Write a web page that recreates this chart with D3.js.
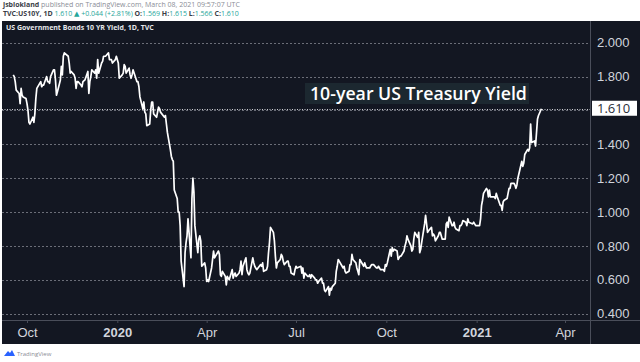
<!DOCTYPE html>
<html lang="en">
<head>
<meta charset="UTF-8">
<title>10-year US Treasury Yield</title>
<script src="https://d3js.org/d3.v7.min.js"></script>
<style>
  body { margin: 0; background: #ffffff; }
  svg { display: block; font-family: 'Open Sans', 'DejaVu Sans', sans-serif; }
  .hdr { font-size: 7px; fill: #8a8d96; }
  .hdr .b { font-weight: 700; fill: #3a3d46; }
  .hdr .g { fill: #26a69a; }
  .ylab { font-size: 13px; fill: #d1d4dc; }
  .xlab { font-size: 13px; fill: #d1d4dc; }
</style>
</head>
<body>
<svg id="chart" width="640" height="362"></svg>
<script>
// daily closes, TVC:US10Y
const dates = [
  "2019-09-17","2019-09-18","2019-09-19","2019-09-20","2019-09-23","2019-09-24","2019-09-25","2019-09-26","2019-09-27","2019-09-30",
  "2019-10-01","2019-10-02","2019-10-03","2019-10-04","2019-10-07","2019-10-08","2019-10-09","2019-10-10","2019-10-11","2019-10-15",
  "2019-10-16","2019-10-17","2019-10-18","2019-10-21","2019-10-22","2019-10-23","2019-10-24","2019-10-25","2019-10-28","2019-10-29",
  "2019-10-30","2019-10-31","2019-11-01","2019-11-04","2019-11-05","2019-11-06","2019-11-07","2019-11-08","2019-11-12","2019-11-13",
  "2019-11-14","2019-11-15","2019-11-18","2019-11-19","2019-11-20","2019-11-21","2019-11-22","2019-11-25","2019-11-26","2019-11-27",
  "2019-11-29","2019-12-02","2019-12-03","2019-12-04","2019-12-05","2019-12-06","2019-12-09","2019-12-10","2019-12-11","2019-12-12",
  "2019-12-13","2019-12-16","2019-12-17","2019-12-18","2019-12-19","2019-12-20","2019-12-23","2019-12-24","2019-12-26","2019-12-27",
  "2019-12-30","2019-12-31","2020-01-02","2020-01-03","2020-01-06","2020-01-07","2020-01-08","2020-01-09","2020-01-10","2020-01-13",
  "2020-01-14","2020-01-15","2020-01-16","2020-01-17","2020-01-21","2020-01-22","2020-01-23","2020-01-24","2020-01-27","2020-01-28",
  "2020-01-29","2020-01-30","2020-01-31","2020-02-03","2020-02-04","2020-02-05","2020-02-06","2020-02-07","2020-02-10","2020-02-11",
  "2020-02-12","2020-02-13","2020-02-14","2020-02-18","2020-02-19","2020-02-20","2020-02-21","2020-02-24","2020-02-25","2020-02-26",
  "2020-02-27","2020-02-28","2020-03-02","2020-03-03","2020-03-04","2020-03-05","2020-03-06","2020-03-09","2020-03-10","2020-03-11",
  "2020-03-12","2020-03-13","2020-03-16","2020-03-17","2020-03-18","2020-03-19","2020-03-20","2020-03-23","2020-03-24","2020-03-25",
  "2020-03-26","2020-03-27","2020-03-30","2020-03-31","2020-04-01","2020-04-02","2020-04-03","2020-04-06","2020-04-07","2020-04-08",
  "2020-04-09","2020-04-13","2020-04-14","2020-04-15","2020-04-16","2020-04-17","2020-04-20","2020-04-21","2020-04-22","2020-04-23",
  "2020-04-24","2020-04-27","2020-04-28","2020-04-29","2020-04-30","2020-05-01","2020-05-04","2020-05-05","2020-05-06","2020-05-07",
  "2020-05-08","2020-05-11","2020-05-12","2020-05-13","2020-05-14","2020-05-15","2020-05-18","2020-05-19","2020-05-20","2020-05-21",
  "2020-05-22","2020-05-26","2020-05-27","2020-05-28","2020-05-29","2020-06-01","2020-06-02","2020-06-03","2020-06-04","2020-06-05",
  "2020-06-08","2020-06-09","2020-06-10","2020-06-11","2020-06-12","2020-06-15","2020-06-16","2020-06-17","2020-06-18","2020-06-19",
  "2020-06-22","2020-06-23","2020-06-24","2020-06-25","2020-06-26","2020-06-29","2020-06-30","2020-07-01","2020-07-02","2020-07-06",
  "2020-07-07","2020-07-08","2020-07-09","2020-07-10","2020-07-13","2020-07-14","2020-07-15","2020-07-16","2020-07-17","2020-07-20",
  "2020-07-21","2020-07-22","2020-07-23","2020-07-24","2020-07-27","2020-07-28","2020-07-29","2020-07-30","2020-07-31","2020-08-03",
  "2020-08-04","2020-08-05","2020-08-06","2020-08-07","2020-08-10","2020-08-11","2020-08-12","2020-08-13","2020-08-14","2020-08-17",
  "2020-08-18","2020-08-19","2020-08-20","2020-08-21","2020-08-24","2020-08-25","2020-08-26","2020-08-27","2020-08-28","2020-08-31",
  "2020-09-01","2020-09-02","2020-09-03","2020-09-04","2020-09-08","2020-09-09","2020-09-10","2020-09-11","2020-09-14","2020-09-15",
  "2020-09-16","2020-09-17","2020-09-18","2020-09-21","2020-09-22","2020-09-23","2020-09-24","2020-09-25","2020-09-28","2020-09-29",
  "2020-09-30","2020-10-01","2020-10-02","2020-10-05","2020-10-06","2020-10-07","2020-10-08","2020-10-09","2020-10-12","2020-10-13",
  "2020-10-14","2020-10-15","2020-10-16","2020-10-19","2020-10-20","2020-10-21","2020-10-22","2020-10-23","2020-10-26","2020-10-27",
  "2020-10-28","2020-10-29","2020-10-30","2020-11-02","2020-11-03","2020-11-04","2020-11-05","2020-11-06","2020-11-09","2020-11-10",
  "2020-11-12","2020-11-13","2020-11-16","2020-11-17","2020-11-18","2020-11-19","2020-11-20","2020-11-23","2020-11-24","2020-11-25",
  "2020-11-27","2020-11-30","2020-12-01","2020-12-02","2020-12-03","2020-12-04","2020-12-07","2020-12-08","2020-12-09","2020-12-10",
  "2020-12-11","2020-12-14","2020-12-15","2020-12-16","2020-12-17","2020-12-18","2020-12-21","2020-12-22","2020-12-23","2020-12-24",
  "2020-12-28","2020-12-29","2020-12-30","2020-12-31","2021-01-04","2021-01-05","2021-01-06","2021-01-07","2021-01-08","2021-01-11",
  "2021-01-12","2021-01-13","2021-01-14","2021-01-15","2021-01-19","2021-01-20","2021-01-21","2021-01-22","2021-01-25","2021-01-26",
  "2021-01-27","2021-01-28","2021-01-29","2021-02-01","2021-02-02","2021-02-03","2021-02-04","2021-02-05","2021-02-08","2021-02-09",
  "2021-02-10","2021-02-11","2021-02-12","2021-02-16","2021-02-17","2021-02-18","2021-02-19","2021-02-22","2021-02-23","2021-02-24",
  "2021-02-25","2021-02-26","2021-03-01","2021-03-02","2021-03-03","2021-03-04","2021-03-05","2021-03-08"
];
const yields = [
  1.81,1.80,1.77,1.72,1.70,1.64,1.73,1.69,1.68,1.67,
  1.64,1.60,1.53,1.52,1.56,1.53,1.58,1.67,1.73,1.77,
  1.74,1.75,1.75,1.80,1.77,1.77,1.76,1.80,1.84,1.84,
  1.78,1.69,1.71,1.78,1.86,1.81,1.92,1.94,1.92,1.88,
  1.82,1.83,1.81,1.79,1.73,1.77,1.77,1.75,1.74,1.77,
  1.78,1.83,1.70,1.77,1.80,1.84,1.82,1.84,1.79,1.90,
  1.82,1.88,1.89,1.92,1.92,1.92,1.94,1.90,1.90,1.88,
  1.90,1.92,1.88,1.79,1.81,1.82,1.87,1.86,1.82,1.85,
  1.81,1.79,1.81,1.84,1.77,1.77,1.74,1.68,1.61,1.65,
  1.59,1.58,1.51,1.52,1.60,1.65,1.65,1.58,1.56,1.59,
  1.62,1.61,1.59,1.56,1.57,1.52,1.47,1.37,1.33,1.31,
  1.30,1.13,1.08,1.00,1.00,0.92,0.71,0.56,0.76,0.82,
  0.86,0.96,0.73,1.08,1.20,1.12,0.92,0.76,0.84,0.86,
  0.83,0.68,0.70,0.67,0.59,0.60,0.59,0.67,0.72,0.77,
  0.73,0.77,0.75,0.63,0.62,0.65,0.62,0.57,0.62,0.61,
  0.60,0.66,0.61,0.63,0.64,0.62,0.64,0.66,0.71,0.63,
  0.68,0.73,0.66,0.64,0.63,0.64,0.73,0.70,0.68,0.67,
  0.66,0.69,0.68,0.70,0.65,0.66,0.68,0.76,0.82,0.91,
  0.88,0.83,0.74,0.67,0.70,0.72,0.75,0.74,0.71,0.69,
  0.71,0.71,0.68,0.68,0.64,0.63,0.66,0.68,0.67,0.68,
  0.64,0.67,0.61,0.64,0.62,0.62,0.63,0.61,0.63,0.61,
  0.60,0.60,0.58,0.59,0.61,0.58,0.58,0.54,0.53,0.56,
  0.51,0.55,0.54,0.56,0.58,0.65,0.68,0.72,0.71,0.68,
  0.67,0.68,0.65,0.64,0.65,0.69,0.69,0.75,0.72,0.70,
  0.67,0.65,0.63,0.72,0.68,0.70,0.68,0.67,0.67,0.68,
  0.69,0.69,0.69,0.67,0.67,0.68,0.67,0.66,0.66,0.65,
  0.69,0.68,0.70,0.78,0.74,0.79,0.77,0.78,0.77,0.72,
  0.73,0.74,0.74,0.77,0.80,0.82,0.86,0.84,0.80,0.77,
  0.78,0.84,0.88,0.85,0.88,0.76,0.78,0.82,0.93,0.98,
  0.88,0.89,0.91,0.86,0.87,0.86,0.83,0.86,0.88,0.88,
  0.84,0.84,0.93,0.94,0.91,0.97,0.92,0.92,0.94,0.91,
  0.90,0.89,0.92,0.92,0.93,0.95,0.94,0.92,0.96,0.94,
  0.93,0.94,0.93,0.92,0.92,0.96,1.04,1.07,1.11,1.14,
  1.13,1.09,1.13,1.09,1.09,1.08,1.11,1.09,1.04,1.04,
  1.01,1.06,1.07,1.08,1.11,1.14,1.14,1.17,1.17,1.16,
  1.14,1.16,1.20,1.30,1.27,1.29,1.34,1.37,1.36,1.38,
  1.52,1.41,1.42,1.39,1.47,1.55,1.57,1.61
];
const yTicks = [2.0, 1.8, 1.6, 1.4, 1.2, 1.0, 0.8, 0.6, 0.4];
const xTicks = ["2019-10-01","2020-01-01","2020-04-01","2020-07-01","2020-10-01","2021-01-01","2021-04-01"];
const lastPrice = 1.610;

const parse = d3.timeParse("%Y-%m-%d");
const data = dates.map((d, i) => ({ date: parse(d), value: yields[i] }));

const svg = d3.select("#chart");

// header on white
const h1 = svg.append("text").attr("class", "hdr").attr("x", 3).attr("y", 7);
h1.append("tspan").attr("class", "b").text("jsblokland");
h1.append("tspan").text(" published on TradingView.com, March 08, 2021 09:57:07 UTC");

const h2 = svg.append("text").attr("class", "hdr").attr("x", 3).attr("y", 16);
[["TVC:US10Y, 1D ", "b"], ["1.610 ▲ +0.044 (+2.81%) ", "g"], ["O:", "b"], ["1.569 ", "g"], ["H:", "b"],
 ["1.615 ", "g"], ["L:", "b"], ["1.566 ", "g"], ["C:", "b"], ["1.610", "g"]]
  .forEach(([t, c]) => h2.append("tspan").attr("class", c).text(t));

// dark panel
const panel = { x: 2, y: 21, w: 638, h: 323 };
const plotRight = 590, axisY = 320;
svg.append("rect").attr("x", panel.x).attr("y", panel.y).attr("width", panel.w).attr("height", panel.h)
  .attr("fill", "#131722");

const x = d3.scaleTime().domain([parse(xTicks[0]), parse(xTicks[xTicks.length - 1])]).range([27, 565]);
const y = d3.scaleLinear().domain([0.4, 2.0]).range([313.7, 42.7]);

// grid
svg.append("g").selectAll("line").data(yTicks).join("line")
  .attr("x1", panel.x).attr("x2", plotRight)
  .attr("y1", d => Math.round(y(d)) + 0.5).attr("y2", d => Math.round(y(d)) + 0.5)
  .attr("stroke", "#6b6e78").attr("stroke-width", 1).attr("stroke-dasharray", "2,2");

// last price line
svg.append("line").attr("x1", panel.x).attr("x2", plotRight)
  .attr("y1", Math.round(y(lastPrice)) + 0.5).attr("y2", Math.round(y(lastPrice)) + 0.5)
  .attr("stroke", "#c8cad0").attr("stroke-width", 1).attr("stroke-dasharray", "1,1.5");

// separators
svg.append("line").attr("x1", panel.x).attr("x2", panel.x + panel.w).attr("y1", axisY + 0.5).attr("y2", axisY + 0.5)
  .attr("stroke", "#4a4e5a");
svg.append("line").attr("x1", plotRight + 0.5).attr("x2", plotRight + 0.5).attr("y1", panel.y).attr("y2", panel.y + panel.h)
  .attr("stroke", "#4a4e5a");

// panel title
svg.append("text").attr("x", 6).attr("y", 30).attr("font-size", 7).attr("font-weight", 700)
  .attr("fill", "#e6e7ea").text("US Government Bonds 10 YR Yield, 1D, TVC");

// chart title box
const tg = svg.append("g");
const tBox = tg.append("rect").attr("x", 305).attr("y", 83).attr("height", 21).attr("fill", "#1c2830");
const tTxt = tg.append("text").attr("x", 310).attr("y", 100).attr("font-size", 18).attr("font-weight", 600)
  .attr("fill", "#ffffff").text("10-year US Treasury Yield");
const tw = tTxt.node().getComputedTextLength();
if (tw > 0) tTxt.attr("font-size", 18 * 217 / tw);
tBox.attr("width", 224);

// line
svg.append("clipPath").attr("id", "clip").append("rect")
  .attr("x", panel.x).attr("y", panel.y).attr("width", plotRight - panel.x).attr("height", axisY - panel.y);
svg.append("path").datum(data).attr("clip-path", "url(#clip)")
  .attr("fill", "none").attr("stroke", "#ffffff").attr("stroke-width", 1.7).attr("stroke-linejoin", "round")
  .attr("d", d3.line().x(d => x(d.date)).y(d => y(d.value)));

// y labels (1.6 hidden behind the price tag)
const yAxis = svg.append("g").attr("transform", `translate(${plotRight},0)`)
  .call(d3.axisRight(y).tickValues(yTicks.filter(v => Math.abs(v - lastPrice) > 0.05))
    .tickFormat(d3.format(".3f")).tickSize(0).tickPadding(7));
yAxis.select(".domain").remove();
yAxis.selectAll("text").attr("class", "ylab").attr("fill", null).attr("font-family", null).attr("font-size", null);

// price tag
svg.append("rect").attr("x", 592).attr("y", y(lastPrice) - 8).attr("width", 45).attr("height", 15).attr("fill", "#ffffff");
svg.append("text").attr("x", 597).attr("y", y(lastPrice) + 4).attr("font-size", 13).attr("fill", "#2a2e39")
  .text(d3.format(".3f")(lastPrice));

// x labels
const fmt = d => d.getMonth() === 0 ? d3.timeFormat("%Y")(d) : d3.timeFormat("%b")(d);
const xAxis = svg.append("g").attr("transform", `translate(0,${axisY})`)
  .call(d3.axisBottom(x).tickValues(xTicks.map(parse)).tickFormat(fmt).tickSize(3).tickPadding(5));
xAxis.select(".domain").remove();
xAxis.selectAll("line").attr("stroke", "#4a4e5a");
xAxis.selectAll("text").attr("class", "xlab").attr("fill", null).attr("font-family", null).attr("font-size", null)
  .attr("font-weight", d => d.getMonth() === 0 ? 700 : 400);

// footer logo
const logo = svg.append("g").attr("transform", "translate(4,350)");
logo.append("path").attr("d", "M0,6 L4,1 L6,3 L8,0 L11,6 Z").attr("fill", "#2962ff");
svg.append("text").attr("x", 17).attr("y", 356).attr("font-size", 6).attr("fill", "#8a8d96").text("TradingView");
</script>
</body>
</html>
